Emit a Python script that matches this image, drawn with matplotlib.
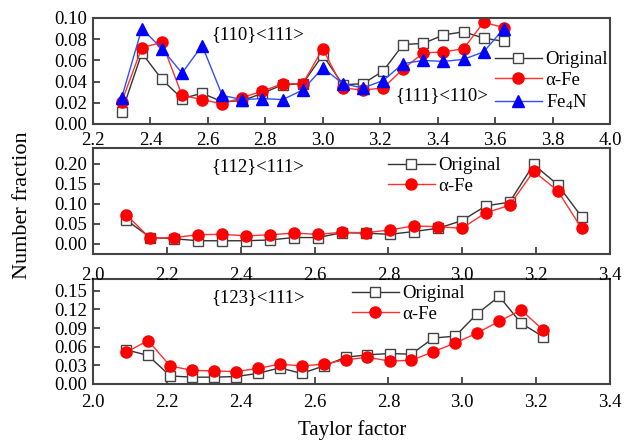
import numpy as np
import matplotlib
matplotlib.use('Agg')
import matplotlib.pyplot as plt
from matplotlib.ticker import FormatStrFormatter, MultipleLocator

plt.rcParams['font.family'] = ['Liberation Serif', 'DejaVu Serif']
plt.rcParams['mathtext.fontset'] = 'stix'

# {110}<111> / {111}<110> panel
x1 = [2.30, 2.37, 2.44, 2.51, 2.58, 2.65, 2.72, 2.79, 2.86, 2.93,
      3.00, 3.07, 3.14, 3.21, 3.28, 3.35, 3.42, 3.49, 3.56, 3.63]
orig1 = [0.011, 0.067, 0.042, 0.024, 0.029, 0.021, 0.022, 0.029, 0.037, 0.038,
         0.065, 0.037, 0.038, 0.050, 0.075, 0.076, 0.084, 0.087, 0.081, 0.078]
afe1 = [0.021, 0.072, 0.077, 0.027, 0.023, 0.019, 0.025, 0.031, 0.038, 0.038,
        0.071, 0.034, 0.032, 0.034, 0.052, 0.067, 0.068, 0.071, 0.096, 0.091]
fe4n1 = [0.025, 0.090, 0.071, 0.048, 0.074, 0.027, 0.023, 0.024, 0.023, 0.032,
         0.053, 0.038, 0.034, 0.041, 0.057, 0.060, 0.059, 0.061, 0.068, 0.090]

# {112}<111> panel
x2 = [2.090, 2.155, 2.220, 2.285, 2.350, 2.415, 2.480, 2.544, 2.609, 2.674,
      2.739, 2.804, 2.869, 2.934, 2.999, 3.064, 3.128, 3.193, 3.258, 3.323]
orig2 = [0.060, 0.016, 0.013, 0.008, 0.008, 0.008, 0.010, 0.016, 0.016, 0.028,
         0.027, 0.024, 0.031, 0.039, 0.058, 0.095, 0.104, 0.198, 0.148, 0.068]
afe2 = [0.073, 0.014, 0.016, 0.023, 0.024, 0.020, 0.023, 0.027, 0.024, 0.029,
        0.028, 0.035, 0.045, 0.043, 0.039, 0.078, 0.096, 0.181, 0.133, 0.039]

# {123}<111> panel
x3 = [2.090, 2.149, 2.209, 2.268, 2.328, 2.387, 2.446, 2.506, 2.565, 2.625,
      2.684, 2.743, 2.803, 2.862, 2.922, 2.981, 3.040, 3.100, 3.159, 3.219]
orig3 = [0.055, 0.046, 0.013, 0.011, 0.011, 0.012, 0.017, 0.026, 0.017, 0.029,
         0.043, 0.047, 0.049, 0.048, 0.074, 0.077, 0.113, 0.141, 0.098, 0.076]
afe3 = [0.051, 0.070, 0.029, 0.022, 0.021, 0.020, 0.025, 0.032, 0.029, 0.032,
        0.039, 0.043, 0.037, 0.038, 0.052, 0.066, 0.082, 0.101, 0.119, 0.087]

fs = 13.5
W, H = 635, 441
fig = plt.figure(figsize=(W / 100, H / 100), dpi=100)


def px_axes(left, top, right, bottom):
    return fig.add_axes([left / W, 1 - bottom / H, (right - left) / W, (bottom - top) / H])


def style(ax, xlim, xstep, ylim, xpad):
    ax.set_xlim(*xlim)
    ax.set_ylim(*ylim)
    ax.xaxis.set_major_locator(MultipleLocator(xstep))
    ax.xaxis.set_major_formatter(FormatStrFormatter('%.1f'))
    ax.yaxis.set_major_formatter(FormatStrFormatter('%.2f'))
    ax.tick_params(direction='in', length=5, width=1.2, color='#333333',
                   labelsize=fs)
    ax.tick_params(axis='x', pad=xpad)
    ax.tick_params(axis='y', pad=4)
    for s in ax.spines.values():
        s.set_linewidth(1.5)
        s.set_color('#444444')
    ax.patch.set_alpha(0)


ko = dict(color='#333333', lw=1, marker='s', ms=6.5, mfc='white',
          mec='#444444', mew=1, label='Original')
ro = dict(color='#ff3030', lw=1, marker='o', ms=8, mfc='red', mec='red',
          label='α-Fe')
bo = dict(color='#3050ff', lw=1, marker='^', ms=8, mfc='blue', mec='blue',
          label=r'Fe$_\mathregular{4}$N')

# bottom first so upper tick labels sit on top
ax3 = px_axes(93, 279, 610, 384)
ax3.plot(x3, orig3, **ko)
ax3.plot(x3, afe3, **ro)
style(ax3, (2.0, 3.4), 0.2, (0, 0.169), 7)
ax3.set_yticks([0, 0.03, 0.06, 0.09, 0.12, 0.15])
ax3.text(0.319, 0.82, '{123}<111>', transform=ax3.transAxes, fontsize=fs,
         ha='center', va='center')

ax2 = px_axes(93, 148, 610, 254)
ax2.plot(x2, orig2, **ko)
ax2.plot(x2, afe2, **ro)
style(ax2, (2.0, 3.4), 0.2, (-0.025, 0.239), 9)
ax2.set_yticks([0, 0.05, 0.10, 0.15, 0.20])
ax2.text(0.319, 0.823, '{112}<111>', transform=ax2.transAxes, fontsize=fs,
         ha='center', va='center')

ax1 = px_axes(93, 18, 610, 124)
ax1.plot(x1, orig1, **ko)
ax1.plot(x1, afe1, **ro)
ax1.plot(x1, fe4n1, **bo)
style(ax1, (2.2, 4.0), 0.2, (0, 0.10), 6)
ax1.set_yticks([0, 0.02, 0.04, 0.06, 0.08, 0.10])
ax1.text(0.319, 0.842, '{110}<111>', transform=ax1.transAxes, fontsize=fs,
         ha='center', va='center')
ax1.text(0.675, 0.27, '{111}<110>', transform=ax1.transAxes, fontsize=fs,
         ha='center', va='center')

leg_kw = dict(frameon=False, fontsize=fs, handlelength=2.5, handletextpad=0.2,
              labelspacing=0.2, borderpad=0, borderaxespad=0, loc='upper left',
              bbox_transform=fig.transFigure)
ax1.legend(bbox_to_anchor=(495 / W, 1 - 51 / H), **leg_kw)
ax2.legend(bbox_to_anchor=(388 / W, 1 - 157 / H), **leg_kw)
ax3.legend(bbox_to_anchor=(352 / W, 1 - 285 / H), **leg_kw)

fig.text(0.035, 0.535, 'Number fraction', rotation=90, fontsize=16,
         ha='center', va='center')
fig.text(0.554, 0.025, 'Taylor factor', fontsize=15, ha='center', va='center')

fig.savefig('out.png', dpi=100)
